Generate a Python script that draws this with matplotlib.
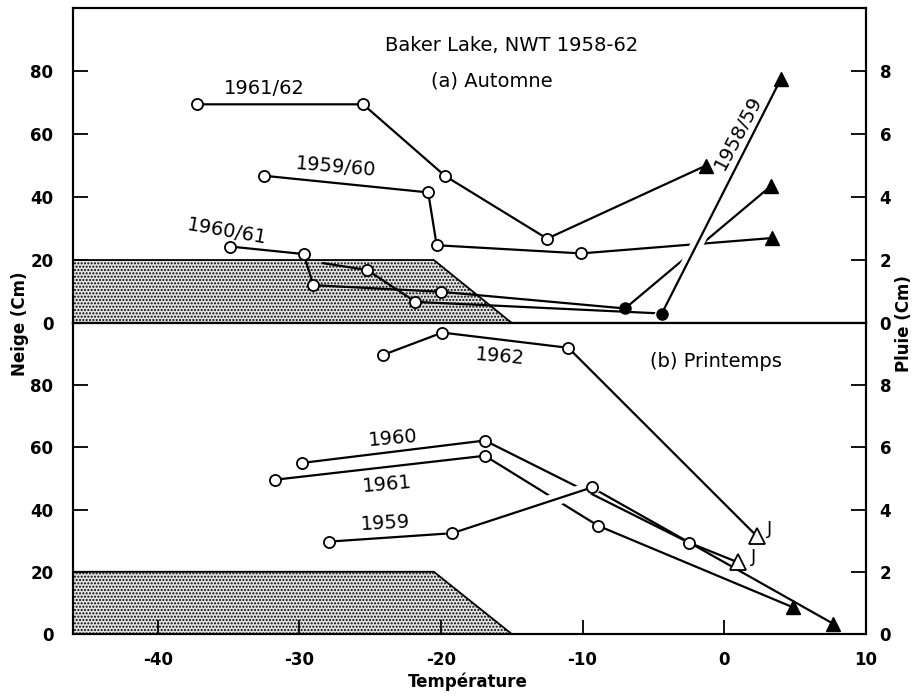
import matplotlib
matplotlib.use("Agg")
import matplotlib.pyplot as plt
import matplotlib.patheffects as pe
from matplotlib.patches import Polygon

# ---- (a) Automne : neige (cm) vs temperature, then pluie (cm) ----
t_6162 = [-37.2, -25.5, -19.7, -12.5]
neige_6162 = [69.5, 69.5, 46.7, 26.8]
t_6162_pluie = [-1.3]
pluie_6162 = [5.0]

t_5960 = [-32.5, -20.9, -20.3, -10.1]
neige_5960 = [46.8, 41.5, 24.7, 22.1]
t_5960_pluie = [3.4]
pluie_5960 = [2.7]

t_6061 = [-34.9, -29.7, -29.0, -20.0]
neige_6061 = [24.3, 21.9, 12.0, 9.9]
t_6061_mixte = [-7.0]
neige_6061_mixte = [4.6]
t_6061_pluie = [3.3]
pluie_6061 = [4.35]

t_5859 = [-28.3, -25.2, -21.8]
neige_5859 = [19.0, 16.8, 6.7]
t_5859_mixte = [-4.4]
neige_5859_mixte = [3.0]
t_5859_pluie = [4.0]
pluie_5859 = [7.75]

# ---- (b) Printemps ----
t_1962 = [-24.1, -19.9, -11.0]
neige_1962 = [89.7, 96.9, 92.0]
t_1962_pluie = [2.3]
pluie_1962 = [3.15]      # juin

t_1960 = [-29.8, -16.9, -2.5]
neige_1960 = [55.0, 62.2, 29.4]
t_1960_pluie = [1.0]
pluie_1960 = [2.3]       # juin

t_1961 = [-31.7, -16.9, -8.9]
neige_1961 = [49.6, 57.3, 34.8]
t_1961_pluie = [4.85]
pluie_1961 = [0.86]

t_1959 = [-27.9, -19.2, -9.35]
neige_1959 = [29.7, 32.4, 47.1]
t_1959_pluie = [7.7]
pluie_1959 = [0.33]

# shaded zone (snow cover reference)
zone_t = [-46, -46, -20.5, -15.0]
zone_neige = [0, 20, 20, 0]

x_ticks = [-40, -30, -20, -10, 0, 10]
x_labels = ["-40", "-30", "-20", "-10", "0", "10"]
neige_ticks = [0, 20, 40, 60, 80]
pluie_ticks = [0, 2, 4, 6, 8]

LW = 1.6
FS = 14
open_c = dict(marker='o', ms=8, mfc='white', mec='black', mew=1.3, ls='none', zorder=6)
full_c = dict(marker='o', ms=8, mfc='black', mec='black', ls='none', zorder=6)
full_t = dict(marker='^', ms=10, mfc='black', mec='black', ls='none', zorder=6)
open_t = dict(marker='^', ms=11, mfc='white', mec='black', mew=1.3, ls='none', zorder=6)
gap = [pe.Stroke(linewidth=9, foreground='white'), pe.Normal()]

fig = plt.figure(figsize=(9.21, 6.99), dpi=100)
ax1 = fig.add_axes([0.079, 0.538, 0.861, 0.450])
ax2 = fig.add_axes([0.079, 0.093, 0.861, 0.445])


def zone(ax):
    poly = Polygon(list(zip(zone_t, zone_neige)), closed=True, facecolor='#e4e4e4',
                   edgecolor='black', hatch='.....', lw=1.3, zorder=1)
    ax.add_patch(poly)


def line(ax, t, y, **kw):
    ax.plot(t, y, color='black', lw=LW, solid_joinstyle='miter', zorder=kw.pop('zorder', 3), **kw)


for ax in (ax1, ax2):
    zone(ax)
    ax.set_xlim(-46, 10)
    ax.set_ylim(0, 100)
    ax.set_yticks(neige_ticks)
    ax.tick_params(axis='y', direction='in', length=11, width=1.3, pad=14, labelsize=12)
    for lab in ax.get_yticklabels():
        lab.set_fontweight('bold')
    for s in ax.spines.values():
        s.set_linewidth(1.5)

# ---------- panel a ----------
p10 = lambda v: [x * 10 for x in v]

line(ax1, t_6162 + t_6162_pluie, neige_6162 + p10(pluie_6162))
line(ax1, t_5960 + t_5960_pluie, neige_5960 + p10(pluie_5960))
line(ax1, t_6061 + t_6061_mixte + t_6061_pluie, neige_6061 + neige_6061_mixte + p10(pluie_6061))
line(ax1, t_5859 + t_5859_mixte, neige_5859 + neige_5859_mixte)
# last 1958/59 segment drawn over the others, breaking them where it crosses
ax1.plot(t_5859_mixte + t_5859_pluie, neige_5859_mixte + p10(pluie_5859), color='black',
         lw=LW, zorder=4, path_effects=gap)

ax1.plot(t_6162, neige_6162, **open_c)
ax1.plot(t_5960, neige_5960, **open_c)
ax1.plot(t_6061, neige_6061, **open_c)
ax1.plot(t_5859[1:], neige_5859[1:], **open_c)
ax1.plot(t_6061_mixte + t_5859_mixte, neige_6061_mixte + neige_5859_mixte, **full_c)
ax1.plot(t_6162_pluie + t_5960_pluie + t_6061_pluie + t_5859_pluie,
         p10(pluie_6162 + pluie_5960 + pluie_6061 + pluie_5859), **full_t)

ax1.tick_params(axis='x', bottom=False, labelbottom=False)

ax1.text(-15.0, 88.3, "Baker Lake, NWT 1958-62", ha='center', va='center', fontsize=FS)
ax1.text(-16.4, 76.8, "(a) Automne", ha='center', va='center', fontsize=FS)
ax1.text(-32.5, 74.5, "1961/62", ha='center', va='center', fontsize=FS)
ax1.text(-27.4, 49.4, "1959/60", ha='center', va='center', fontsize=FS, rotation=-5)
ax1.text(-35.1, 28.9, "1960/61", ha='center', va='center', fontsize=FS, rotation=-10)
ax1.text(1.0, 60.5, "1958/59", ha='center', va='center', fontsize=FS, rotation=62)

# ---------- panel b ----------
line(ax2, t_1962 + t_1962_pluie, neige_1962 + p10(pluie_1962))
line(ax2, t_1960 + t_1960_pluie, neige_1960 + p10(pluie_1960))
line(ax2, t_1961 + t_1961_pluie, neige_1961 + p10(pluie_1961))
line(ax2, t_1959[:2], neige_1959[:2])
line(ax2, t_1959[2:] + t_1959_pluie, neige_1959[2:] + p10(pluie_1959))
ax2.plot(t_1959[1:3], neige_1959[1:3], color='black', lw=LW, zorder=4, path_effects=gap)

for t, n in ((t_1962, neige_1962), (t_1960, neige_1960), (t_1961, neige_1961), (t_1959, neige_1959)):
    ax2.plot(t, n, **open_c)
ax2.plot(t_1962_pluie + t_1960_pluie, p10(pluie_1962 + pluie_1960), **open_t)
ax2.plot(t_1961_pluie + t_1959_pluie, p10(pluie_1961 + pluie_1959), **full_t)

ax2.text(-0.6, 87.6, "(b) Printemps", ha='center', va='center', fontsize=FS)
ax2.text(-15.8, 89.1, "1962", ha='center', va='center', fontsize=FS, rotation=-5)
ax2.text(-23.4, 63.0, "1960", ha='center', va='center', fontsize=FS, rotation=5)
ax2.text(-23.8, 48.0, "1961", ha='center', va='center', fontsize=FS, rotation=5)
ax2.text(-23.9, 35.6, "1959", ha='center', va='center', fontsize=FS, rotation=3)
ax2.text(3.2, 33.7, "J", ha='center', va='center', fontsize=13)
ax2.text(2.1, 24.9, "J", ha='center', va='center', fontsize=13)

ax2.set_xticks(x_ticks)
ax2.set_xticklabels(x_labels)
ax2.tick_params(axis='x', direction='in', length=10, width=1.3, pad=12, labelsize=12)
for lab in ax2.get_xticklabels():
    lab.set_fontweight('bold')

# right-hand rain axes
for ax in (ax1, ax2):
    axr = ax.twinx()
    axr.set_ylim(0, 10)
    axr.set_yticks(pluie_ticks)
    axr.tick_params(axis='y', direction='in', length=11, width=1.3, pad=10, labelsize=12)
    for lab in axr.get_yticklabels():
        lab.set_fontweight('bold')
    for s in axr.spines.values():
        s.set_linewidth(1.5)

fig.text(0.022, 0.537, "Neige (Cm)", rotation=90, ha='center', va='center',
         fontsize=12, fontweight='bold')
fig.text(0.982, 0.537, "Pluie (Cm)", rotation=90, ha='center', va='center',
         fontsize=12, fontweight='bold')
fig.text(0.508, 0.011, "Température", ha='center', va='bottom', fontsize=12, fontweight='bold')

fig.savefig("out.png", dpi=100)
